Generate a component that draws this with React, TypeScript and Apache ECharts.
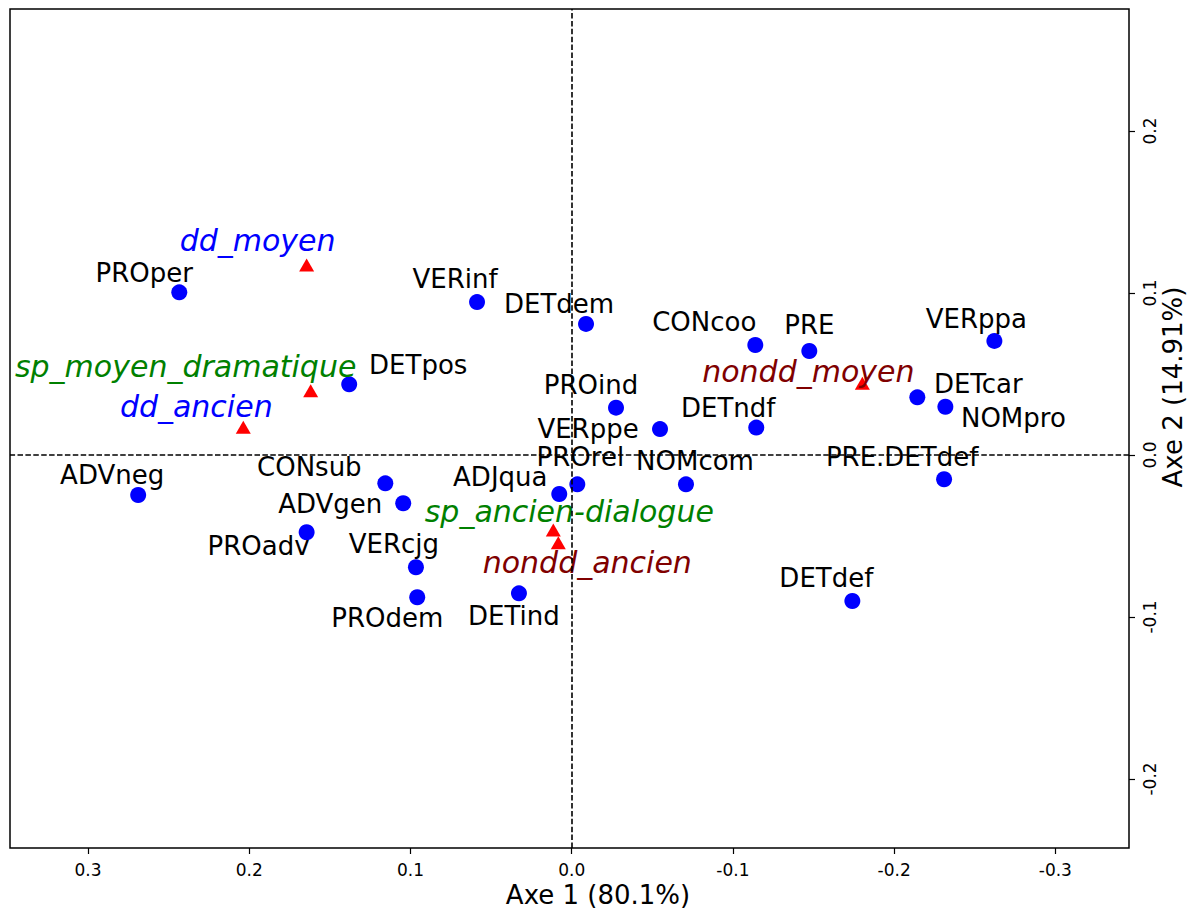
import React, { useEffect, useRef } from "react";
import * as echarts from "echarts";

// ---- Data ----
const pointNames = [
  "PROper", "VERinf", "DETdem", "CONcoo", "PRE", "VERppa", "DETpos", "PROind",
  "DETcar", "NOMpro", "VERppe", "DETndf", "ADVneg", "CONsub", "ADVgen", "ADJqua",
  "PROrel", "NOMcom", "PRE.DETdef", "PROadv", "VERcjg", "PROdem", "DETind", "DETdef",
];
const pointAxe1 = [
  0.2434, 0.0587, -0.0089, -0.1139, -0.1474, -0.2622, 0.138, -0.0275,
  -0.2144, -0.2318, -0.0548, -0.1145, 0.2689, 0.1156, 0.1045, 0.0077,
  -0.0035, -0.0709, -0.231, 0.1644, 0.0966, 0.0958, 0.0327, -0.1741,
];
const pointAxe2 = [
  0.1004, 0.0944, 0.0809, 0.0679, 0.0642, 0.0704, 0.0436, 0.0292,
  0.0356, 0.0298, 0.016, 0.0169, -0.0247, -0.0175, -0.0298, -0.0241,
  -0.0181, -0.0181, -0.015, -0.0477, -0.0693, -0.0878, -0.0854, -0.0901,
];

const groupNames = [
  "dd_moyen", "sp_moyen_dramatique", "dd_ancien", "nondd_moyen", "sp_ancien-dialogue", "nondd_ancien",
];
const groupAxe1 = [0.1644, 0.1619, 0.2037, -0.1803, 0.0114, 0.0083];
const groupAxe2 = [0.1173, 0.0397, 0.0171, 0.0443, -0.0463, -0.0541];

const xTicks = [-0.3, -0.2, -0.1, 0, 0.1, 0.2, 0.3];
const yTicks = [-0.2, -0.1, 0, 0.1, 0.2];
const xTitle = "Axe 1 (80.1%)";
const yTitle = "Axe 2 (14.91%)";

// ---- Label placement / styles (pixels) ----
const pointLabelOffsets: number[][] = [
  [-35, -19], [-22, -23], [-27, -20], [-51, -23], [0, -26], [-18, -22], [69, -19], [-25, -23],
  [61, -13], [68, 11], [-72, 0], [-28, -20], [-26, -20], [-76, -16], [-73, 1], [-59, -17],
  [3, -27], [9, -23], [-42, -22], [-48, 14], [-22, -23], [-30, 21], [-5, 23], [-26, -23],
];
const groupLabelOffsets: number[][] = [
  [-49, -24], [-125, -24], [-47, -21], [-54, -12], [16, -18], [29, 20],
];
const groupLabelColors = ["#0000ff", "#008000", "#0000ff", "#800000", "#008000", "#800000"];

const FONT = "DejaVu Sans";

function fmt(v: number): string {
  const s = v.toFixed(1);
  return s === "-0.0" ? "0.0" : s;
}

export default function App() {
  const ref = useRef<HTMLDivElement>(null);

  useEffect(() => {
    if (!ref.current) return;
    const chart = echarts.init(ref.current, null, { renderer: "svg" });

    const pointData = pointNames.map((n, i) => ({
      name: n,
      value: [pointAxe1[i], pointAxe2[i]],
      label: { offset: pointLabelOffsets[i] },
    }));
    const groupData = groupNames.map((n, i) => ({
      name: n,
      value: [groupAxe1[i], groupAxe2[i]],
      label: { offset: groupLabelOffsets[i], color: groupLabelColors[i] },
    }));

    const left = 10, top = 9, right = 65, bottom = 61;

    chart.setOption({
      animation: false,
      textStyle: { fontFamily: FONT },
      grid: {
        left, top, right, bottom,
        show: true,
        borderColor: "#000",
        borderWidth: 1.5,
        backgroundColor: "transparent",
      },
      xAxis: {
        type: "value",
        inverse: true,
        position: "bottom",
        min: -0.3457,
        max: 0.3484,
        splitLine: { show: false },
        axisLine: { show: false, onZero: false },
        axisTick: { show: true, inside: false, length: 6, lineStyle: { color: "#000", width: 1.2 }, customValues: xTicks },
        axisLabel: {
          customValues: xTicks,
          formatter: (v: number) => fmt(v),
          fontSize: 17,
          color: "#000",
          fontFamily: FONT,
          margin: 13,
        },
      },
      yAxis: {
        type: "value",
        position: "right",
        min: -0.2426,
        max: 0.2753,
        splitLine: { show: false },
        axisLine: { show: false, onZero: false },
        axisTick: { show: true, inside: false, length: 6, lineStyle: { color: "#000", width: 1.2 }, customValues: yTicks },
        axisLabel: {
          customValues: yTicks,
          formatter: (v: number) => fmt(v),
          fontSize: 17,
          color: "#000",
          fontFamily: FONT,
          rotate: 90,
          margin: 12,
        },
      },
      graphic: [
        {
          type: "text",
          x: 598,
          y: 895,
          style: { text: xTitle, fontSize: 26, fontFamily: FONT, fill: "#000", align: "center", verticalAlign: "middle" },
        },
        {
          type: "text",
          x: 1173,
          y: 387,
          rotation: Math.PI / 2,
          style: { text: yTitle, fontSize: 26, fontFamily: FONT, fill: "#000", align: "center", verticalAlign: "middle" },
        },
      ],
      series: [
        {
          type: "scatter",
          name: "lines",
          data: [],
          silent: true,
          markLine: {
            silent: true,
            symbol: ["none", "none"],
            label: { show: false },
            lineStyle: { color: "#000", width: 1.6, type: [5.5, 2.4] },
            data: [{ xAxis: 0 }, { yAxis: 0 }],
          },
          z: 1,
        },
        {
          type: "scatter",
          name: "points",
          symbol: "circle",
          symbolSize: 16,
          itemStyle: { color: "#0000ff", opacity: 1 },
          data: pointData,
          label: {
            show: true,
            position: "inside",
            formatter: "{b}",
            fontSize: 26,
            fontFamily: FONT,
            color: "#000",
          },
          z: 3,
        },
        {
          type: "scatter",
          name: "groups",
          symbol: "triangle",
          symbolSize: [15, 13],
          itemStyle: { color: "#ff0000", opacity: 1 },
          data: groupData,
          label: {
            show: true,
            position: "inside",
            formatter: "{b}",
            fontSize: 30,
            fontStyle: "italic",
            fontFamily: FONT,
          },
          z: 4,
        },
      ],
    });

    return () => chart.dispose();
  }, []);

  return (
    <div
      ref={ref}
      style={{ position: "absolute", left: 0, top: 0, width: 1194, height: 909, background: "#fff" }}
    />
  );
}
